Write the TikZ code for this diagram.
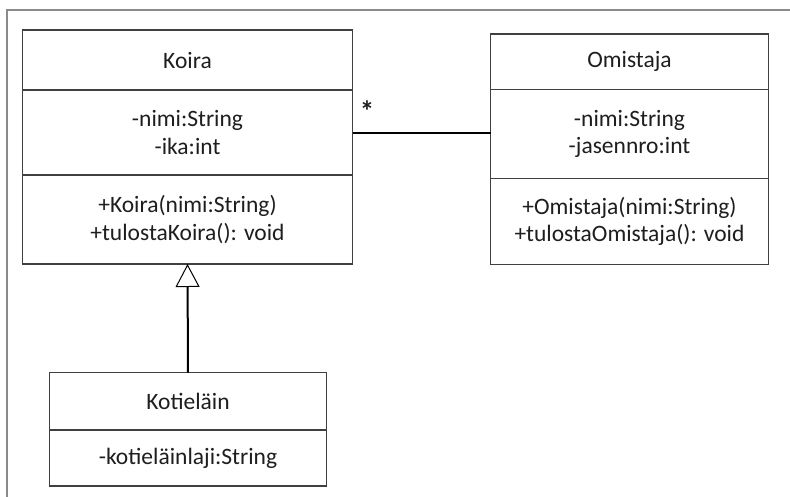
\documentclass[tikz,border=0pt]{standalone}
\usepackage{fontspec}
\setmainfont{Carlito}
\usetikzlibrary{arrows.meta}
\definecolor{boxline}{HTML}{404040}
\definecolor{frameline}{HTML}{8A8A8A}
\definecolor{ink}{HTML}{1E1E1E}
\tikzset{
  cell/.style={draw=boxline, line width=1.3pt, inner sep=0pt, outer sep=0pt,
    align=center, text=ink, font=\fontsize{23.5}{27.5}\selectfont},
  assoc/.style={draw=black, line width=2pt},
  inherit/.style={draw=black, line width=2pt,
    -{Triangle[open, length=23pt, width=24pt, line width=1pt]}},
  mult/.style={text=ink, font=\fontsize{29}{32}\selectfont, inner sep=0pt, anchor=base}
}
\begin{document}
\begin{tikzpicture}[x=1pt, y=1pt]
  \useasboundingbox (0,0) rectangle (790,-496);
  \fill[white] (0,0) rectangle (790,-496);
  % outer frame
  \draw[frameline, line width=2pt] (7,-500) -- (7,-10) -- (795,-10);

  % class Koira
  \node[cell, minimum width=330, minimum height=60, anchor=north west] (koiraName) at (22.5,-30) {Koira};
  \node[cell, minimum width=330, minimum height=85, anchor=north] (koiraAttr) at (koiraName.south) {-nimi:String\\-ika:int};
  \node[cell, minimum width=330, minimum height=89, anchor=north] (koiraOps) at (koiraAttr.south) {+Koira(nimi:String)\\+tulostaKoira(): void};

  % class Omistaja
  \node[cell, minimum width=278, minimum height=55.3, anchor=north west] (omName) at (490.5,-34) {Omistaja};
  \node[cell, minimum width=278, minimum height=89, anchor=north] (omAttr) at (omName.south) {-nimi:String\\-jasennro:int};
  \node[cell, minimum width=278, minimum height=86, anchor=north] (omOps) at (omAttr.south) {+Omistaja(nimi:String)\\+tulostaOmistaja(): void};

  % class Kotieläin
  \node[cell, minimum width=277.4, minimum height=57.3, anchor=north west] (kotiName) at (49.3,-372.7) {Kotieläin};
  \node[cell, minimum width=277.4, minimum height=56, anchor=north] (kotiAttr) at (kotiName.south) {-kotieläinlaji:String};

  % association with multiplicity
  \coordinate (assocEnd) at ([yshift=-0.8pt]koiraAttr.east -| omAttr.west);
  \draw[assoc] ([yshift=-0.8pt]koiraAttr.east) -- (assocEnd);
  \node[mult] (star) at ([xshift=14.5pt, yshift=11.5pt]koiraAttr.east) {\bfseries *};

  % generalization
  \draw[inherit] (kotiName.north) -- (koiraOps.south);
\end{tikzpicture}
\end{document}
